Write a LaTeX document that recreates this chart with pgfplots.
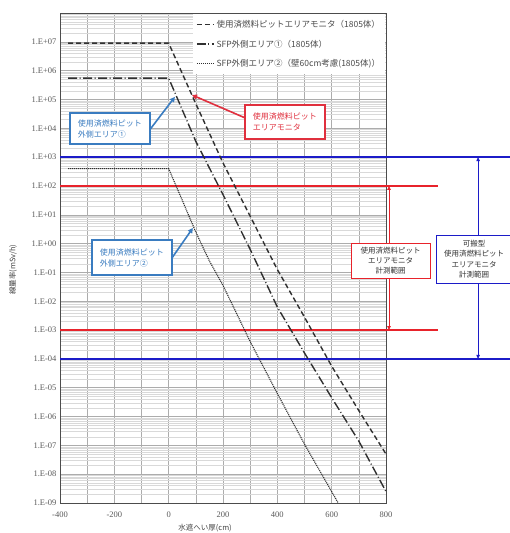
\documentclass[border=0pt]{standalone}
\usepackage{pgfplots}
\pgfplotsset{compat=1.18}
\usepackage{fontspec}
\setmainfont{Liberation Serif}
\newfontfamily\jp{Noto Sans CJK JP}
\usetikzlibrary{arrows.meta}
\definecolor{cbblue}{HTML}{3A7CC0}
\definecolor{lblue}{HTML}{1C1CC8}
\definecolor{lred}{HTML}{E8232B}
\definecolor{cred}{HTML}{E0303E}
\definecolor{curve}{HTML}{303030}
\gdef\minorlist{1e-9}
\foreach \e in {-9,...,7}{\foreach \m in {2,...,9}{\xdef\minorlist{\minorlist,\m e\e}}}
\begin{document}
\begin{tikzpicture}[x=1pt,y=1pt]
\useasboundingbox (0,0) rectangle (510,533);
\begin{axis}[
  at={(60pt,30pt)}, anchor=south west,
  width=326pt, height=490pt, scale only axis,
  clip=false,
  xmin=-400, xmax=800,
  ymode=log, log basis y=10, ymin=1e-9, ymax=1e8,
  xtick={-400,-300,...,800},
  xticklabels={-400,,-200,,0,,200,,400,,600,,800},
  ytickten={-9,...,7},
  yticklabels={1.E-09,1.E-08,1.E-07,1.E-06,1.E-05,1.E-04,1.E-03,1.E-02,1.E-01,1.E+00,1.E+01,1.E+02,1.E+03,1.E+04,1.E+05,1.E+06,1.E+07},
  minor ytick/.expanded={\minorlist},
  grid=both,
  major grid style={gray!65, line width=0.5pt},
  minor grid style={gray!30, line width=0.35pt},
  major tick length=0pt, minor tick length=0pt,
  axis line style={gray!60!black, line width=1pt},
  tick label style={text=black!65, font=\fontsize{8.5}{10}\selectfont},
  xticklabel style={yshift=-5pt},
  xlabel={水遮へい厚(cm)},
  ylabel={線量率(mSv/h)},
  every axis x label/.style={at={(axis description cs:0.445,0)}, anchor=center, yshift=-25pt, font=\jp\fontsize{7.5}{9}\selectfont, text=black!75},
  every axis y label/.style={at={(axis description cs:-0.144,0.476)}, anchor=center, rotate=90, font=\jp\fontsize{7.5}{9}\selectfont, text=black!75},
  legend style={at={(1,1)}, anchor=north east, xshift=-0.8pt, yshift=-0.8pt, draw=none, fill=white,
    font=\jp\fontsize{8.5}{10}\selectfont, text=black!70,
    row sep=7pt, inner xsep=3pt, inner ysep=4pt},
  legend cell align=left,
]
% range lines
\addplot[lblue, line width=1.5pt, forget plot] coordinates {(-400,1e3) (1265,1e3)};
\addplot[lblue, line width=1.5pt, forget plot] coordinates {(-400,1e-4) (1265,1e-4)};
\addplot[lred, line width=1.5pt, forget plot] coordinates {(-400,1e2) (991,1e2)};
\addplot[lred, line width=1.5pt, forget plot] coordinates {(-400,1e-3) (991,1e-3)};

% curves
\addplot[curve, line width=1.4pt, dash pattern=on 5pt off 3pt] coordinates {
 (-370,9e6) (0,9e6) (100,7.1e4) (200,631) (300,8.9) (400,0.126)
 (500,2.8e-3) (600,5.6e-5) (700,1.6e-6) (800,5e-8)};
\addlegendentry{使用済燃料ピットエリアモニタ（1805体）}
\addplot[curve, line width=1.4pt, dash pattern=on 9pt off 2.5pt on 1pt off 2.5pt] coordinates {
 (-370,5.5e5) (0,5.5e5) (100,3.5e3) (200,50) (300,0.63) (400,6.3e-3)
 (500,1.6e-4) (600,4.5e-6) (700,1.4e-7) (800,2.5e-9)};
\addlegendentry{SFP外側エリア①（1805体）}
\addplot[curve, line width=1.1pt, dash pattern=on 1.1pt off 0.9pt] coordinates {
 (-370,4e2) (0,4e2) (50,32) (100,2.5) (150,0.25) (200,0.0355)
 (300,4e-4) (400,6.3e-6) (500,1.1e-7) (600,2.5e-9) (624,1e-9)};
\addlegendentry{SFP外側エリア②（壁60cm考慮(1805体)）}

% range arrows
\draw[lred, line width=0.9pt, {Triangle[length=4pt,width=3.5pt]}-{Triangle[length=4pt,width=3.5pt]}] (axis cs:811,1e2) -- (axis cs:811,1e-3);
\draw[lblue, line width=0.9pt, {Triangle[length=4pt,width=3.5pt]}-{Triangle[length=4pt,width=3.5pt]}] (axis cs:1139,1e3) -- (axis cs:1139,1e-4);

% range boxes
\node[draw=lred, line width=0.9pt, fill=white, text=black!80, align=center,
  font=\jp\fontsize{7.5}{10}\selectfont, minimum width=79pt, minimum height=35pt, inner sep=2pt]
  at (axis cs:817,0.259) {使用済燃料ピット\\エリアモニタ\\計測範囲};
\node[draw=lblue, line width=0.9pt, fill=white, text=black!80, align=center,
  font=\jp\fontsize{7.5}{10.5}\selectfont, minimum width=76pt, minimum height=48pt, inner sep=2pt]
  at (axis cs:1124,0.29) {可搬型\\使用済燃料ピット\\エリアモニタ\\計測範囲};

% callouts
\draw[cbblue, line width=1.6pt, -{Triangle[length=5pt,width=5pt]}] (axis cs:-76,7.4e3) -- (axis cs:23,1.23e5);
\node[draw=cbblue, line width=1.2pt, fill=white, text=cbblue, align=left,
  font=\jp\fontsize{8}{11}\selectfont, minimum width=80pt, minimum height=31pt, inner sep=2pt]
  at (axis cs:-216,9.8e3) {使用済燃料ピット\\外側エリア①};

\draw[cbblue, line width=1.6pt, -{Triangle[length=5pt,width=5pt]}] (axis cs:12,0.316) -- (axis cs:89,3.47);
\node[draw=cbblue, line width=1.2pt, fill=white, text=cbblue, align=left,
  font=\jp\fontsize{8}{11}\selectfont, minimum width=80pt, minimum height=35pt, inner sep=2pt]
  at (axis cs:-135,0.33) {使用済燃料ピット\\外側エリア②};

\draw[cred, line width=1.6pt, -{Triangle[length=5pt,width=5pt]}] (axis cs:281,2.3e4) -- (axis cs:86,1.43e5);
\node[draw=cred, line width=1.2pt, fill=white, text=cred, align=left,
  font=\jp\fontsize{8}{11}\selectfont, minimum width=80pt, minimum height=34pt, inner sep=2pt]
  at (axis cs:428,1.66e4) {使用済燃料ピット\\エリアモニタ};
\end{axis}
\end{tikzpicture}
\end{document}
